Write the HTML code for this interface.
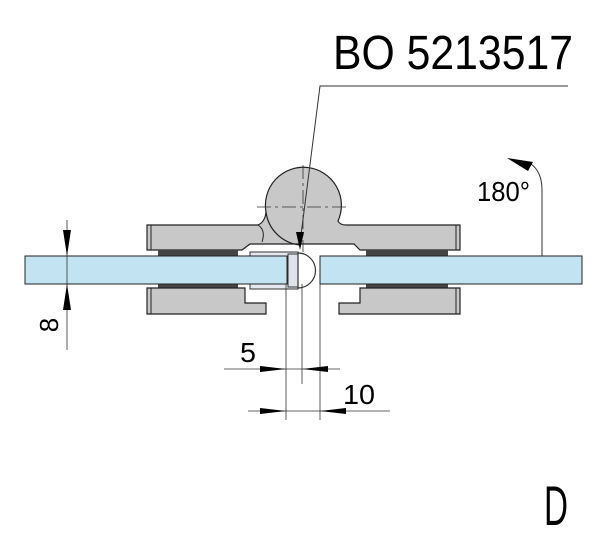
<!DOCTYPE html>
<html><head><meta charset="utf-8"><style>html,body{margin:0;padding:0;background:#fff}svg{display:block}</style></head>
<body>
<svg width="600" height="541" viewBox="0 0 600 541" xmlns="http://www.w3.org/2000/svg" font-family="Liberation Sans, sans-serif">
<rect width="600" height="541" fill="#fff"/>
<!-- knuckle + upper plates -->
<path d="M147,225 H258 Q265,222 266,212 A38,38 0 1 1 338,221 Q340,225 346,225 H460 V250 H360 L354,244 H250 L242,250 H147 Z" fill="#c8c8c8" stroke="#222" stroke-width="1.2"/>
<path d="M266,212 A38,38 0 0 0 300,245" fill="none" stroke="#222" stroke-width="1.2"/>
<path d="M258,225 Q266,230 262,242" fill="none" stroke="#222" stroke-width="1"/>
<line x1="151" y1="225" x2="151" y2="250" stroke="#222"/>
<line x1="456" y1="225" x2="456" y2="250" stroke="#222"/>
<!-- gaskets -->
<rect x="158" y="250" width="80" height="7" fill="#444"/>
<rect x="366" y="250" width="82" height="7" fill="#444"/>
<rect x="158" y="284" width="80" height="5" fill="#444"/>
<rect x="366" y="284" width="82" height="5" fill="#444"/>
<!-- lower plates -->
<path d="M147,288 H245 V303 H266 V314 H147 Z" fill="#c8c8c8" stroke="#222" stroke-width="1.2"/>
<path d="M360,288 H460 V314 H339 V303 H360 Z" fill="#c8c8c8" stroke="#222" stroke-width="1.2"/>
<line x1="151" y1="288" x2="151" y2="314" stroke="#222"/>
<line x1="456" y1="288" x2="456" y2="314" stroke="#222"/>
<!-- seal outer -->
<path d="M250,252 H298 V289 H250 Z" fill="#e4e8f0" stroke="#333" stroke-width="1"/>
<!-- glass -->
<rect x="25" y="256" width="262" height="28" fill="#c2e4f2" stroke="#222" stroke-width="1"/>
<rect x="320" y="256" width="262" height="28" fill="#c2e4f2" stroke="#222" stroke-width="1"/>
<rect x="288" y="254" width="10" height="33" fill="#dfe3ea" stroke="#333" stroke-width="1"/>
<path d="M298,253 A17,17 0 0 1 298,288 Z" fill="#fff" stroke="#333" stroke-width="1.2"/>
<!-- centerlines -->
<line x1="257" y1="207" x2="350" y2="207" stroke="#333" stroke-width="0.8" stroke-dasharray="14,4,3,4"/>
<line x1="303" y1="165" x2="303" y2="252" stroke="#333" stroke-width="0.8" stroke-dasharray="14,4,3,4"/>
<!-- leader -->
<polyline points="568,86 320,86 300,243" fill="none" stroke="#333" stroke-width="1"/>
<path d="M296,232 L304,232 L300,250 Z" fill="#000"/>
<text x="333" y="69" font-size="48" textLength="240" lengthAdjust="spacingAndGlyphs">BO 5213517</text>
<!-- dimension lines vertical -->
<line x1="286" y1="284" x2="286" y2="420" stroke="#333" stroke-width="0.8"/>
<line x1="302" y1="284" x2="302" y2="384" stroke="#333" stroke-width="0.8"/>
<line x1="320" y1="284" x2="320" y2="420" stroke="#333" stroke-width="0.8"/>
<!-- dim 5 -->
<line x1="224" y1="369" x2="340" y2="369" stroke="#333" stroke-width="0.8"/>
<path d="M260,366 L286,369 L260,372 Z M328,366 L302,369 L328,372 Z" fill="#000"/>
<text x="240" y="362" font-size="28" textLength="16" lengthAdjust="spacingAndGlyphs">5</text>
<!-- dim 10 -->
<line x1="248" y1="411" x2="390" y2="411" stroke="#333" stroke-width="0.8"/>
<path d="M260,408 L286,411 L260,414 Z M346,408 L320,411 L346,414 Z" fill="#000"/>
<text x="343" y="404" font-size="28" textLength="32" lengthAdjust="spacingAndGlyphs">10</text>
<!-- dim 8 -->
<line x1="67" y1="220" x2="67" y2="350" stroke="#333" stroke-width="0.8"/>
<path d="M63,230 L67,256 L71,230 Z M63,310 L67,284 L71,310 Z" fill="#000"/>
<text x="0" y="0" font-size="26" transform="translate(58,325) rotate(-90)" text-anchor="middle">8</text>
<!-- 180 -->
<path d="M542,256 V190 Q542,172 531,164" fill="none" stroke="#333" stroke-width="1"/>
<path d="M507,158 L533,162 L528,171 Z" fill="#000"/>
<text x="477" y="201" font-size="28" textLength="53" lengthAdjust="spacingAndGlyphs">180°</text>
<text x="544" y="525" font-size="56" textLength="24" lengthAdjust="spacingAndGlyphs">D</text>
</svg>
</body></html>
